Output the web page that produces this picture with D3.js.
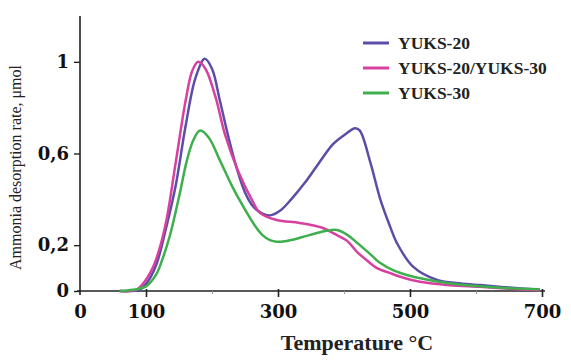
<!DOCTYPE html>
<html>
<head>
<meta charset="utf-8">
<script src="https://cdn.jsdelivr.net/npm/d3@7"></script>
<style>
  body { margin: 0; background: #fff; }
  .tick-label { font-family: "DejaVu Serif", serif; font-weight: bold; font-size: 18px; fill: #111; }
  .axis-title { font-family: "Liberation Serif", "Times New Roman", serif; fill: #222; }
  .legend-label { font-family: "Liberation Serif", "Times New Roman", serif; font-weight: bold; font-size: 17.5px; fill: #222; }
</style>
</head>
<body>
<div id="chart"></div>
<script>

// Temperatures (°C) and desorption rates, one pair of arrays per sample

var tempA = [60, 90, 100, 115, 130, 145, 160, 175, 189, 200, 212, 225, 238, 250, 262, 275, 288, 303, 320, 340, 360, 383, 400, 417, 424, 440, 455, 470, 480, 505, 541, 570, 606, 650, 697];
var rateA = [0, 0.005, 0.03, 0.11, 0.27, 0.46, 0.72, 0.93, 1.013, 0.97, 0.83, 0.67, 0.53, 0.43, 0.37, 0.34, 0.33, 0.35, 0.40, 0.47, 0.55, 0.64, 0.68, 0.71, 0.70, 0.56, 0.40, 0.28, 0.21, 0.105, 0.048, 0.035, 0.026, 0.015, 0.005];

var tempB = [60, 85, 95, 110, 120, 131, 145, 160, 170, 179, 190, 205, 220, 240, 260, 273, 298, 333, 368, 385, 404, 420, 434, 450, 470, 490, 515, 560, 606, 650, 697];
var rateB = [0, 0.005, 0.03, 0.1, 0.18, 0.31, 0.56, 0.83, 0.96, 1.0, 0.97, 0.85, 0.68, 0.52, 0.40, 0.34, 0.31, 0.297, 0.275, 0.25, 0.22, 0.17, 0.135, 0.10, 0.078, 0.058, 0.04, 0.025, 0.018, 0.01, 0.003];

var tempC = [60, 80, 100, 115, 125, 136, 150, 162, 172, 182, 195, 212, 230, 247, 265, 276, 288, 298, 310, 333, 355, 374, 389, 405, 420, 440, 455, 475, 495, 525, 556, 600, 650, 697];
var rateC = [0, 0.005, 0.02, 0.07, 0.14, 0.24, 0.41, 0.57, 0.66, 0.70, 0.67, 0.57, 0.46, 0.37, 0.285, 0.245, 0.222, 0.215, 0.217, 0.232, 0.25, 0.263, 0.266, 0.245, 0.21, 0.16, 0.122, 0.09, 0.07, 0.05, 0.035, 0.022, 0.012, 0.008];

var seriesNames = ["YUKS-20", "YUKS-20/YUKS-30", "YUKS-30"];
var seriesColors = ["#5a4ea6", "#d8409f", "#3fae4c"];

var xTicks = [0, 100, 300, 500, 700],
    xMinorTicks = [200, 400, 600],
    yTicks = [0, 0.2, 0.6, 1];

var series = [
  { name: seriesNames[0], color: seriesColors[0], values: d3.zip(tempA, rateA) },
  { name: seriesNames[1], color: seriesColors[1], values: d3.zip(tempB, rateB) },
  { name: seriesNames[2], color: seriesColors[2], values: d3.zip(tempC, rateC) }
];

var margin = { top: 16, right: 29, bottom: 70, left: 80 },
    width = 571 - margin.left - margin.right,
    height = 361 - margin.top - margin.bottom;

var xScale = d3.scaleLinear()
    .domain([0, 700])
    .range([0, width]);

var yScale = d3.scaleLinear()
    .domain([0, 1.2])
    .range([height, 0]);

var svg = d3.select("#chart").append("svg")
    .attr("width", width + margin.left + margin.right)
    .attr("height", height + margin.top + margin.bottom)
  .append("g")
    .attr("transform", "translate(" + margin.left + "," + margin.top + ")");

// Axes: the tick marks come from d3, the labels are restyled afterwards

var xAxis = svg.append("g")
    .attr("transform", "translate(0," + height + ")")
    .call(d3.axisBottom(xScale)
      .tickValues(xTicks)
      .tickSizeInner(6)
      .tickSizeOuter(0)
      .tickFormat(d3.format("d")));

xAxis.select(".domain")
    .attr("d", "M-3,0H" + (width + 3))
    .attr("stroke", "#222")
    .attr("stroke-width", 1.6);

xAxis.selectAll(".tick line")
    .attr("y1", -2)
    .attr("stroke", "#222")
    .attr("stroke-width", 1.6);

xAxis.selectAll(".tick text")
    .attr("class", "tick-label")
    .attr("y", 14)
    .attr("dy", "0.71em")
    .style("font-size", null);

xAxis.selectAll(".tick")
    .filter(function(d) { return d === 0; })
    .select("line")
    .remove();

svg.append("g")
    .attr("transform", "translate(0," + height + ")")
    .call(d3.axisBottom(xScale).tickValues(xMinorTicks).tickSize(3).tickFormat(""))
    .call(function(g) { g.select(".domain").remove(); })
    .selectAll(".tick line")
    .attr("stroke", "#999");

var yAxis = svg.append("g")
    .call(d3.axisLeft(yScale)
      .tickValues(yTicks)
      .tickSizeInner(6)
      .tickSizeOuter(0)
      .tickFormat(function(d) { return String(d).replace(".", ","); }));

yAxis.select(".domain")
    .attr("d", "M0," + (height + 4) + "V0")
    .attr("stroke", "#222")
    .attr("stroke-width", 1.6);

yAxis.selectAll(".tick line")
    .attr("stroke", "#222")
    .attr("stroke-width", 1.4);

yAxis.selectAll(".tick text")
    .attr("class", "tick-label")
    .attr("x", -11)
    .style("font-size", null);

// Axis titles

svg.append("text")
    .attr("class", "axis-title")
    .attr("x", 277)
    .attr("y", height + 59)
    .attr("text-anchor", "middle")
    .style("font-size", "22px")
    .style("font-weight", "bold")
    .text("Temperature °C");

svg.append("text")
    .attr("class", "axis-title")
    .attr("transform", "translate(-59," + (yScale(0.6) + 14) + ") rotate(-90)")
    .attr("text-anchor", "middle")
    .style("font-size", "16px")
    .text("Ammonia desorption rate, μmol");

// Curves

var line = d3.line()
    .x(function(d) { return xScale(d[0]); })
    .y(function(d) { return yScale(d[1]); })
    .curve(d3.curveCatmullRom.alpha(0.5));

svg.append("g")
    .selectAll("path")
    .data(series)
  .enter().append("path")
    .attr("fill", "none")
    .attr("stroke", function(d) { return d.color; })
    .attr("stroke-width", 2.5)
    .attr("stroke-linejoin", "round")
    .attr("d", function(d) { return line(d.values); });

// Legend, top right

var legend = svg.append("g")
    .attr("transform", "translate(283,27)");

var rows = legend.selectAll("g")
    .data(series)
  .enter().append("g")
    .attr("transform", function(d, i) { return "translate(0," + (i * 25) + ")"; });

rows.append("line")
    .attr("x1", 0)
    .attr("x2", 26)
    .attr("stroke", function(d) { return d.color; })
    .attr("stroke-width", 3);

rows.append("text")
    .attr("class", "legend-label")
    .attr("x", 35)
    .attr("dy", "0.35em")
    .text(function(d) { return d.name; });

</script>
</body>
</html>
